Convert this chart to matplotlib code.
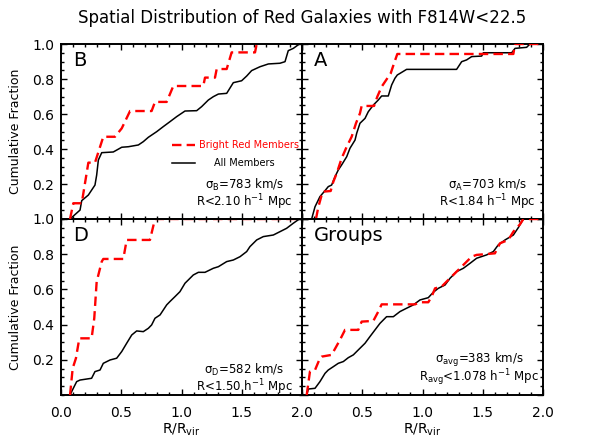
import matplotlib.pyplot as plt
from matplotlib.ticker import MultipleLocator

# ---- data (R/Rvir, cumulative fraction) ----
b_red_x = [0.075, 0.102, 0.172, 0.227, 0.282, 0.351, 0.448, 0.504, 0.573, 0.752, 0.780,
           0.877, 0.932, 1.181, 1.195, 1.278, 1.292, 1.375, 1.416, 1.610, 1.624]
b_red_y = [0.0, 0.09, 0.09, 0.322, 0.322, 0.47, 0.47, 0.518, 0.617, 0.617, 0.669,
           0.669, 0.76, 0.76, 0.808, 0.808, 0.857, 0.857, 0.952, 0.952, 1.0]
b_all_x = [0.075, 0.158, 0.172, 0.227, 0.282, 0.296, 0.310, 0.338, 0.434, 0.504, 0.559,
           0.642, 0.683, 0.725, 0.794, 0.849, 0.904, 0.960, 1.029, 1.126, 1.167, 1.223,
           1.264, 1.306, 1.375, 1.430, 1.499, 1.541, 1.582, 1.651, 1.721, 1.817, 1.859,
           1.886, 1.928, 1.978]
b_all_y = [0.0, 0.051, 0.105, 0.137, 0.194, 0.251, 0.337, 0.379, 0.383, 0.410, 0.413,
           0.423, 0.442, 0.467, 0.499, 0.528, 0.556, 0.585, 0.617, 0.619, 0.642, 0.680,
           0.699, 0.714, 0.718, 0.779, 0.790, 0.817, 0.848, 0.870, 0.886, 0.890, 0.899,
           0.962, 0.975, 1.0]

a_red_x = [0.116, 0.135, 0.171, 0.238, 0.260, 0.288, 0.329, 0.371, 0.412, 0.448, 0.481,
           0.495, 0.598, 0.625, 0.661, 0.708, 0.736, 0.764, 0.791, 1.754, 1.768, 1.975]
a_red_y = [0.0, 0.067, 0.156, 0.16, 0.213, 0.261, 0.347, 0.413, 0.47, 0.547, 0.604,
           0.646, 0.646, 0.699, 0.756, 0.804, 0.832, 0.89, 0.943, 0.943, 1.0, 1.0]
a_all_x = [0.080, 0.108, 0.149, 0.191, 0.218, 0.246, 0.274, 0.301, 0.329, 0.371, 0.398,
           0.440, 0.454, 0.481, 0.523, 0.550, 0.592, 0.633, 0.661, 0.716, 0.744, 0.771,
           0.791, 0.813, 0.868, 1.283, 1.325, 1.366, 1.408, 1.491, 1.505, 1.740, 1.768,
           1.864, 1.892, 2.0]
a_all_y = [0.0, 0.07, 0.128, 0.162, 0.185, 0.194, 0.242, 0.28, 0.309, 0.356, 0.404,
           0.451, 0.49, 0.547, 0.575, 0.613, 0.651, 0.68, 0.703, 0.703, 0.766, 0.804,
           0.823, 0.832, 0.855, 0.855, 0.899, 0.909, 0.928, 0.931, 0.95, 0.95, 0.975,
           0.981, 1.0, 1.0]

d_red_x = [0.075, 0.097, 0.124, 0.152, 0.254, 0.276, 0.296, 0.338, 0.351, 0.517, 0.545,
           0.738, 0.780, 1.98]
d_red_y = [0.0, 0.152, 0.209, 0.322, 0.322, 0.436, 0.644, 0.758, 0.773, 0.773, 0.881,
           0.881, 1.0, 1.0]
d_all_x = [0.075, 0.102, 0.130, 0.158, 0.254, 0.282, 0.324, 0.351, 0.407, 0.462, 0.504,
           0.545, 0.587, 0.628, 0.683, 0.725, 0.752, 0.780, 0.822, 0.849, 0.877, 0.904,
           0.946, 0.987, 1.029, 1.057, 1.098, 1.140, 1.195, 1.264, 1.306, 1.375, 1.430,
           1.486, 1.541, 1.568, 1.624, 1.679, 1.762, 1.817, 1.872, 1.928, 1.978]
d_all_y = [0.0, 0.038, 0.076, 0.085, 0.095, 0.133, 0.142, 0.18, 0.199, 0.209, 0.247,
           0.294, 0.341, 0.364, 0.36, 0.379, 0.398, 0.436, 0.455, 0.483, 0.512, 0.531,
           0.559, 0.587, 0.635, 0.654, 0.682, 0.697, 0.697, 0.72, 0.729, 0.758, 0.767,
           0.786, 0.815, 0.843, 0.881, 0.9, 0.909, 0.928, 0.947, 0.976, 1.0]

g_red_x = [0.039, 0.066, 0.108, 0.149, 0.163, 0.246, 0.315, 0.357, 0.467, 0.495, 0.592,
           0.633, 0.661, 0.938, 0.979, 1.048, 1.076, 1.104, 1.159, 1.214, 1.283, 1.339,
           1.408, 1.449, 1.601, 1.643, 1.712, 1.754, 1.809, 1.837, 2.0]
g_red_y = [0.0, 0.133, 0.142, 0.209, 0.218, 0.228, 0.313, 0.37, 0.37, 0.417, 0.421,
           0.474, 0.515, 0.515, 0.527, 0.527, 0.559, 0.606, 0.616, 0.654, 0.701, 0.739,
           0.786, 0.796, 0.805, 0.862, 0.881, 0.928, 0.97, 1.0, 1.0]
g_all_x = [0.039, 0.053, 0.108, 0.149, 0.191, 0.218, 0.260, 0.301, 0.343, 0.384, 0.426,
           0.467, 0.523, 0.564, 0.606, 0.647, 0.702, 0.758, 0.813, 0.868, 0.924, 0.979,
           1.048, 1.090, 1.131, 1.187, 1.228, 1.283, 1.339, 1.394, 1.449, 1.532, 1.588,
           1.629, 1.685, 1.754, 1.795, 1.837, 2.0]
g_all_y = [0.0, 0.034, 0.038, 0.076, 0.123, 0.142, 0.161, 0.18, 0.19, 0.212, 0.228,
           0.256, 0.294, 0.332, 0.37, 0.407, 0.445, 0.445, 0.474, 0.493, 0.512, 0.54,
           0.553, 0.584, 0.606, 0.625, 0.663, 0.701, 0.72, 0.748, 0.777, 0.796, 0.815,
           0.853, 0.881, 0.909, 0.951, 1.0, 1.0]

panel_names = ['B', 'A', 'D', 'Groups']
sigma_text = [r'σ$_\mathregular{B}$=783 km/s', r'σ$_\mathregular{A}$=703 km/s',
              r'σ$_\mathregular{D}$=582 km/s', r'σ$_\mathregular{avg}$=383 km/s']
radius_text = [r'R<2.10 h$^\mathregular{-1}$ Mpc', r'R<1.84 h$^\mathregular{-1}$ Mpc',
               r'R<1.50 h$^\mathregular{-1}$ Mpc', r'R$_\mathregular{avg}$<1.078 h$^\mathregular{-1}$ Mpc']

red_data = [(b_red_x, b_red_y), (a_red_x, a_red_y), (d_red_x, d_red_y), (g_red_x, g_red_y)]
all_data = [(b_all_x, b_all_y), (a_all_x, a_all_y), (d_all_x, d_all_y), (g_all_x, g_all_y)]

# ---- layout ----
fig = plt.figure(figsize=(6.04, 4.4), dpi=100)
W, H = 604., 440.
x0, xm, x1 = 61, 302, 543
y0, ym, y1 = 44, 219, 395
boxes = [(x0, y0, xm, ym), (xm, y0, x1, ym), (x0, ym, xm, y1), (xm, ym, x1, y1)]
text_y = [(0.194, 0.097), (0.194, 0.097), (0.142, 0.045), (0.199, 0.097)]
text_x = [0.76, 0.77, 0.76, 0.735]

axes = []
for i, (l, t, r, b) in enumerate(boxes):
    ax = fig.add_axes([l / W, 1 - b / H, (r - l) / W, (b - t) / H])
    ax.patch.set_visible(False)
    ax.plot(*all_data[i], color='black', lw=1.1, zorder=3)
    ax.plot(*red_data[i], color='red', lw=1.7, dashes=(4, 2.2), zorder=4)
    ax.set_xlim(0, 2.0)
    ax.set_ylim(0, 1.0)
    ax.xaxis.set_major_locator(MultipleLocator(0.5))
    ax.xaxis.set_minor_locator(MultipleLocator(0.1))
    ax.yaxis.set_major_locator(MultipleLocator(0.2))
    ax.yaxis.set_minor_locator(MultipleLocator(0.05))
    ax.tick_params(which='both', direction='in', top=True, right=True, width=1.0,
                   labelsize=10, pad=5)
    ax.tick_params(which='major', length=4)
    ax.tick_params(which='minor', length=2.2)
    for s in ax.spines.values():
        s.set_linewidth(1.4)

    # tick labels only on the outer sides, skipping the shared zero
    if i % 2 == 0:
        ax.set_yticks([0.2, 0.4, 0.6, 0.8, 1.0])
        ax.set_yticklabels(['0.2', '0.4', '0.6', '0.8', '1.0'])
        ax.set_ylabel('Cumulative Fraction', fontsize=9)
        ax.yaxis.set_label_coords(-0.162, 0.5)
    else:
        ax.set_yticklabels([])
    if i >= 2:
        if i == 2:
            ax.set_xticks([0.0, 0.5, 1.0, 1.5, 2.0])
            ax.set_xticklabels(['0.0', '0.5', '1.0', '1.5', '2.0'])
        else:
            ax.set_xticks([0.5, 1.0, 1.5, 2.0])
            ax.set_xticklabels(['0.5', '1.0', '1.5', '2.0'])
        ax.set_xlabel(r'R/R$_\mathregular{vir}$', fontsize=10, labelpad=1)
        ax.tick_params(axis='x', pad=8)
    else:
        ax.set_xticklabels([])

    ax.text(0.05, 0.905, panel_names[i], transform=ax.transAxes, fontsize=14,
            ha='left', va='center')
    ax.text(text_x[i], text_y[i][0], sigma_text[i], transform=ax.transAxes,
            fontsize=8.5, ha='center', va='center')
    ax.text(text_x[i], text_y[i][1], radius_text[i], transform=ax.transAxes,
            fontsize=8.5, ha='center', va='center')
    axes.append(ax)

# hand-made key in panel B, kept on top of the neighbour panel
axB = axes[0]
axB.set_zorder(5)
axB.plot([0.46, 0.556], [0.423, 0.423], transform=axB.transAxes,
         color='red', lw=1.7, dashes=(4, 2.2))
axB.plot([0.46, 0.556], [0.322, 0.322], transform=axB.transAxes,
         color='black', lw=1.1)
axB.text(0.573, 0.423, 'Bright Red Members', transform=axB.transAxes,
         color='red', fontsize=7, ha='left', va='center')
axB.text(0.635, 0.322, 'All Members', transform=axB.transAxes,
         color='black', fontsize=7, ha='left', va='center')

fig.text(0.5, 1 - 18 / H, 'Spatial Distribution of Red Galaxies with F814W<22.5',
         ha='center', va='center', fontsize=12)

fig.savefig('out.png', dpi=100)
